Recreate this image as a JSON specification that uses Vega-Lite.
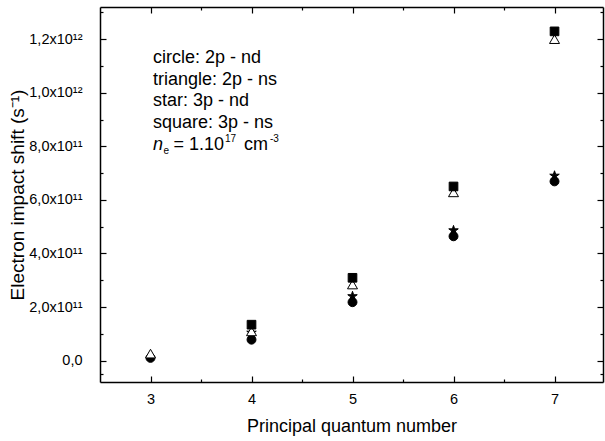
{
  "$schema": "https://vega.github.io/schema/vega-lite/v6.json",
  "width": 503,
  "height": 375,
  "autosize": {"type": "none"},
  "padding": {"left": 100, "top": 7, "right": 2, "bottom": 59},
  "background": "white",
  "config": {
    "view": {"stroke": null},
    "font": "Liberation Sans",
    "axis": {
      "grid": false,
      "domainColor": "black",
      "domainWidth": 1.5,
      "tickColor": "black",
      "tickWidth": 1.2,
      "labelColor": "black",
      "titleColor": "black",
      "labelFont": "Liberation Sans",
      "titleFont": "Liberation Sans",
      "labelFontSize": 14.5,
      "titleFontSize": 18,
      "titleFontWeight": "normal"
    }
  },
  "resolve": {"axis": {"x": "independent", "y": "independent"}},
  "data": {
    "values": [
      {"n": 3, "shift": 1.0e10, "type": "circle"},
      {"n": 4, "shift": 7.8e10, "type": "circle"},
      {"n": 5, "shift": 2.18e11, "type": "circle"},
      {"n": 6, "shift": 4.64e11, "type": "circle"},
      {"n": 7, "shift": 6.69e11, "type": "circle"},
      {"n": 4, "shift": 1.04e11, "type": "star"},
      {"n": 5, "shift": 2.40e11, "type": "star"},
      {"n": 6, "shift": 4.86e11, "type": "star"},
      {"n": 7, "shift": 6.90e11, "type": "star"},
      {"n": 3, "shift": 2.6e10, "type": "triangle"},
      {"n": 4, "shift": 1.09e11, "type": "triangle"},
      {"n": 5, "shift": 2.84e11, "type": "triangle"},
      {"n": 6, "shift": 6.28e11, "type": "triangle"},
      {"n": 7, "shift": 1.200e12, "type": "triangle"},
      {"n": 4, "shift": 1.34e11, "type": "square"},
      {"n": 5, "shift": 3.09e11, "type": "square"},
      {"n": 6, "shift": 6.50e11, "type": "square"},
      {"n": 7, "shift": 1.229e12, "type": "square"}
    ]
  },
  "layer": [
    {
      "mark": {"type": "point", "filled": true, "stroke": "black", "strokeWidth": 1, "opacity": 1},
      "encoding": {
        "x": {
          "field": "n", "type": "quantitative",
          "scale": {"domain": [2.5, 7.48], "nice": false, "zero": false},
          "axis": {
            "orient": "bottom",
            "title": "Principal quantum number",
            "values": [3, 3.5, 4, 4.5, 5, 5.5, 6, 6.5, 7],
            "labelExpr": "datum.value % 1 == 0 ? format(datum.value, 'd') : ''",
            "tickSize": {"condition": {"test": "datum.value % 1 == 0", "value": -6}, "value": -3},
            "labelPadding": 16,
            "titlePadding": 12
          }
        },
        "y": {
          "field": "shift", "type": "quantitative",
          "scale": {"domain": [-8.0e10, 1.32e12], "nice": false, "zero": false},
          "axis": {
            "orient": "left",
            "title": "Electron impact shift (s⁻¹)",
            "titleFontSize": 19,
            "values": [-5.0e10, 0, 1.0e11, 2.0e11, 3.0e11, 4.0e11, 5.0e11, 6.0e11, 7.0e11, 8.0e11, 9.0e11, 1.0e12, 1.1e12, 1.2e12, 1.3e12],
            "labelExpr": "indexof([0, 2.0e11, 4.0e11, 6.0e11, 8.0e11, 1.0e12, 1.2e12], datum.value) < 0 ? '' : datum.value == 0 ? '0,0' : datum.value >= 9.99e11 ? replace(format(datum.value / 1e12, '.1f'), '.', ',') + 'x10¹²' : replace(format(datum.value / 1e11, '.1f'), '.', ',') + 'x10¹¹'",
            "tickSize": {"condition": {"test": "indexof([0, 2.0e11, 4.0e11, 6.0e11, 8.0e11, 1.0e12, 1.2e12], datum.value) >= 0", "value": -6}, "value": -3},
            "labelPadding": 24,
            "titlePadding": 1
          }
        },
        "shape": {
          "field": "type", "type": "nominal", "legend": null,
          "scale": {
            "domain": ["circle", "star", "triangle", "square"],
            "range": ["circle", "M0,-1L0.223,-0.307L0.951,-0.309L0.361,0.117L0.588,0.809L0,0.38L-0.588,0.809L-0.361,0.117L-0.951,-0.309L-0.223,-0.307Z", "triangle-up", "square"]
          }
        },
        "fill": {
          "field": "type", "type": "nominal", "legend": null,
          "scale": {"domain": ["circle", "star", "triangle", "square"], "range": ["black", "black", "white", "black"]}
        },
        "size": {
          "field": "type", "type": "nominal", "legend": null,
          "scale": {"type": "ordinal", "domain": ["circle", "star", "triangle", "square"], "range": [80, 100, 100, 75]}
        }
      }
    },
    {
      "mark": {"type": "point", "opacity": 0},
      "encoding": {
        "x": {
          "field": "n", "type": "quantitative",
          "axis": {
            "orient": "top", "title": null,
            "values": [3, 3.5, 4, 4.5, 5, 5.5, 6, 6.5, 7],
            "labels": false,
            "tickSize": {"condition": {"test": "datum.value % 1 == 0", "value": -6}, "value": -3}
          }
        },
        "y": {
          "field": "shift", "type": "quantitative",
          "axis": {
            "orient": "right", "title": null,
            "values": [-5.0e10, 0, 1.0e11, 2.0e11, 3.0e11, 4.0e11, 5.0e11, 6.0e11, 7.0e11, 8.0e11, 9.0e11, 1.0e12, 1.1e12, 1.2e12, 1.3e12],
            "labels": false,
            "tickSize": {"condition": {"test": "indexof([0, 2.0e11, 4.0e11, 6.0e11, 8.0e11, 1.0e12, 1.2e12], datum.value) >= 0", "value": -6}, "value": -3}
          }
        }
      }
    },
    {
      "data": {"values": [{}]},
      "mark": {"type": "text", "align": "left", "baseline": "alphabetic", "fontSize": 18, "lineHeight": 21.7, "color": "black"},
      "encoding": {
        "x": {"datum": 3.0247, "type": "quantitative", "axis": null},
        "y": {"datum": 1.111e12, "type": "quantitative", "axis": null},
        "text": {"value": ["circle: 2p - nd", "triangle: 2p - ns", "star: 3p - nd", "square: 3p - ns"]}
      }
    },
    {
      "data": {"values": [{}]},
      "mark": {"type": "text", "align": "left", "baseline": "alphabetic", "fontSize": 18, "fontStyle": "italic", "color": "black"},
      "encoding": {
        "x": {"datum": 3.0247, "type": "quantitative", "axis": null},
        "y": {"datum": 7.87e11, "type": "quantitative", "axis": null},
        "text": {"value": "n"}
      }
    },
    {
      "data": {"values": [{}]},
      "mark": {"type": "text", "align": "left", "baseline": "alphabetic", "fontSize": 10, "color": "black"},
      "encoding": {
        "x": {"datum": 3.128, "type": "quantitative", "axis": null},
        "y": {"datum": 7.713e11, "type": "quantitative", "axis": null},
        "text": {"value": "e"}
      }
    },
    {
      "data": {"values": [{}]},
      "mark": {"type": "text", "align": "left", "baseline": "alphabetic", "fontSize": 18, "color": "black"},
      "encoding": {
        "x": {"datum": 3.2277, "type": "quantitative", "axis": null},
        "y": {"datum": 7.87e11, "type": "quantitative", "axis": null},
        "text": {"value": "= 1.10"}
      }
    },
    {
      "data": {"values": [{}]},
      "mark": {"type": "text", "align": "left", "baseline": "alphabetic", "fontSize": 10, "color": "black"},
      "encoding": {
        "x": {"datum": 3.7375, "type": "quantitative", "axis": null},
        "y": {"datum": 8.161e11, "type": "quantitative", "axis": null},
        "text": {"value": "17"}
      }
    },
    {
      "data": {"values": [{}]},
      "mark": {"type": "text", "align": "left", "baseline": "alphabetic", "fontSize": 18, "color": "black"},
      "encoding": {
        "x": {"datum": 3.9256, "type": "quantitative", "axis": null},
        "y": {"datum": 7.87e11, "type": "quantitative", "axis": null},
        "text": {"value": "cm"}
      }
    },
    {
      "data": {"values": [{}]},
      "mark": {"type": "text", "align": "left", "baseline": "alphabetic", "fontSize": 10, "color": "black"},
      "encoding": {
        "x": {"datum": 4.183, "type": "quantitative", "axis": null},
        "y": {"datum": 8.161e11, "type": "quantitative", "axis": null},
        "text": {"value": "-3"}
      }
    }
  ]
}
